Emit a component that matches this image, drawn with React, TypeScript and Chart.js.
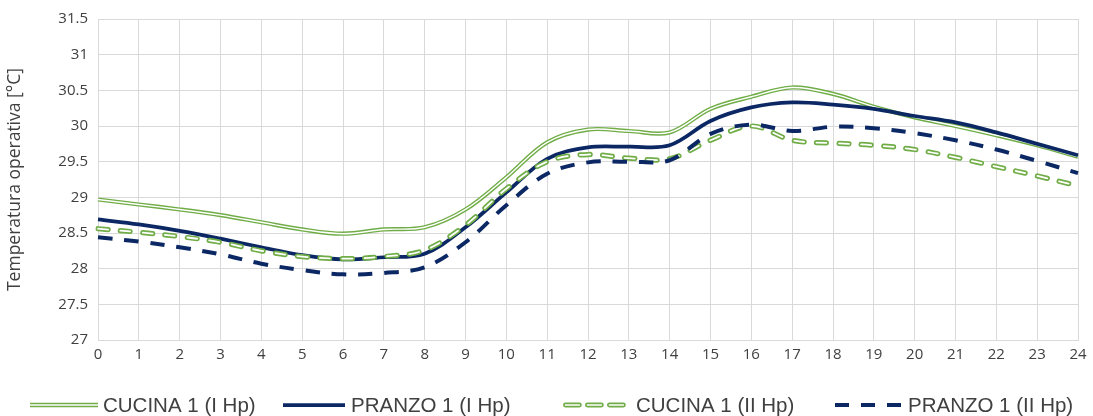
import React, { useEffect, useRef } from "react";
import { Chart, registerables } from "chart.js";

Chart.register(...registerables);

// Hours of the day (x axis)
const hours = [
  "0", "1", "2", "3", "4", "5", "6", "7", "8", "9", "10", "11", "12",
  "13", "14", "15", "16", "17", "18", "19", "20", "21", "22", "23", "24",
];

// Operative temperature [°C] per room and hypothesis
const cucinaI = [
  28.97, 28.9, 28.83, 28.75, 28.65, 28.55, 28.49, 28.55, 28.58, 28.83, 29.28, 29.77, 29.95,
  29.93, 29.91, 30.24, 30.41, 30.54, 30.45, 30.27, 30.12, 30.0, 29.87, 29.73, 29.57,
];
const pranzoI = [
  28.69, 28.62, 28.53, 28.42, 28.3, 28.19, 28.13, 28.16, 28.21, 28.58, 29.07, 29.54, 29.7,
  29.71, 29.73, 30.07, 30.26, 30.33, 30.3, 30.24, 30.14, 30.05, 29.91, 29.75, 29.59,
];
const cucinaII = [
  28.56, 28.51, 28.45, 28.37, 28.25, 28.17, 28.14, 28.17, 28.26, 28.61, 29.12, 29.5, 29.6,
  29.55, 29.54, 29.8, 30.0, 29.8, 29.76, 29.73, 29.67, 29.56, 29.43, 29.3, 29.16,
];
const pranzoII = [
  28.44, 28.38, 28.3, 28.2, 28.07, 27.98, 27.92, 27.94, 28.02, 28.37, 28.89, 29.33, 29.49,
  29.5, 29.52, 29.89, 30.02, 29.93, 29.99, 29.97, 29.9, 29.8, 29.67, 29.51, 29.34,
];

const seriesNames = ["CUCINA 1 (I Hp)", "PRANZO 1 (I Hp)", "CUCINA 1 (II Hp)", "PRANZO 1 (II Hp)"];

const yMin = 27;
const yMax = 31.5;
const yStep = 0.5;

const GREEN = "#70AD47";
const NAVY = "#0B2864";
const GRID = "#D9D9D9";
const TEXT = "#404040";

const TICK_FONT = { family: "'Open Sans', sans-serif", size: 15 };
const LEGEND_FONT = "20.5px 'Liberation Sans', Arial, sans-serif";

// Legend swatch geometry: swatch start, swatch end, text start
const legendSlots = [
  [30, 98, 103],
  [283, 345, 351],
  [563, 628, 636],
  [835, 901, 908],
];

type Look = { double: boolean; color: string; dash: number[]; cap: CanvasLineCap; width: number };
const legendLooks: Look[] = [
  { double: true, color: GREEN, dash: [], cap: "butt", width: 4.5 },
  { double: false, color: NAVY, dash: [], cap: "butt", width: 3.75 },
  { double: true, color: GREEN, dash: [14, 8], cap: "round", width: 4.8 },
  { double: false, color: NAVY, dash: [14, 12], cap: "butt", width: 4 },
];

// Legend drawn below the plot, with double-stroke swatches for the outlined series
const bottomLegend = {
  id: "bottomLegend",
  afterDraw(chart: Chart) {
    const ctx = chart.ctx;
    const cy = 405;
    ctx.save();
    ctx.font = LEGEND_FONT;
    seriesNames.forEach((name, i) => {
      const lk = legendLooks[i];
      const [x0, x1, tx] = legendSlots[i];
      const inset = lk.cap === "round" ? lk.width / 2 : 0;
      ctx.beginPath();
      ctx.setLineDash(lk.dash);
      ctx.lineCap = lk.cap;
      ctx.moveTo(x0 + inset, cy);
      ctx.lineTo(x1 - inset, cy);
      ctx.strokeStyle = lk.color;
      ctx.lineWidth = lk.width;
      ctx.stroke();
      if (lk.double) {
        ctx.strokeStyle = "#FFFFFF";
        ctx.lineWidth = 1.6;
        ctx.stroke();
      }
      ctx.setLineDash([]);
      ctx.fillStyle = TEXT;
      ctx.textBaseline = "middle";
      ctx.textAlign = "left";
      ctx.fillText(name, tx, cy + 1);
    });
    ctx.restore();
  },
};

export default function App() {
  const canvasRef = useRef<HTMLCanvasElement | null>(null);

  useEffect(() => {
    if (!canvasRef.current) return;
    const base = { pointRadius: 0, pointHoverRadius: 0, tension: 0.35, fill: false };
    const chart = new Chart(canvasRef.current, {
      type: "line",
      data: {
        labels: hours,
        datasets: [
          {
            ...base,
            label: seriesNames[3],
            data: pranzoII,
            borderColor: NAVY,
            borderWidth: 4,
            borderDash: [14.5, 11.8],
            order: 0,
          },
          {
            ...base,
            label: seriesNames[2] + " core",
            data: cucinaII,
            borderColor: "#FFFFFF",
            borderWidth: 1.8,
            borderDash: [10, 12.4],
            borderCapStyle: "round",
            order: 1,
          },
          {
            ...base,
            label: seriesNames[2],
            data: cucinaII,
            borderColor: GREEN,
            borderWidth: 5.2,
            borderDash: [10, 12.4],
            borderCapStyle: "round",
            order: 2,
          },
          {
            ...base,
            label: seriesNames[1],
            data: pranzoI,
            borderColor: NAVY,
            borderWidth: 3.75,
            order: 3,
          },
          {
            ...base,
            label: seriesNames[0] + " core",
            data: cucinaI,
            borderColor: "#FFFFFF",
            borderWidth: 1.4,
            order: 4,
          },
          {
            ...base,
            label: seriesNames[0],
            data: cucinaI,
            borderColor: GREEN,
            borderWidth: 4.2,
            order: 5,
          },
        ],
      },
      options: {
        animation: false,
        responsive: true,
        maintainAspectRatio: false,
        layout: { padding: { left: 0, right: 15, top: 18, bottom: 46 } },
        plugins: {
          legend: { display: false },
          tooltip: { enabled: false },
        },
        scales: {
          x: {
            type: "category",
            offset: false,
            grid: { color: GRID, lineWidth: 1, drawTicks: false },
            border: { color: GRID, width: 1 },
            ticks: { color: TEXT, font: TICK_FONT, padding: 6, maxRotation: 0, autoSkip: false },
            afterFit: (scale: any) => {
              scale.height = 30;
            },
          },
          y: {
            min: yMin,
            max: yMax,
            grid: { color: GRID, lineWidth: 1, drawTicks: false },
            border: { color: GRID, width: 1 },
            ticks: {
              stepSize: yStep,
              color: TEXT,
              font: TICK_FONT,
              padding: 10,
              callback: (v: any) => String(Number(v)),
            },
            title: {
              display: true,
              text: "Temperatura operativa [°C]",
              color: TEXT,
              font: { family: "'Open Sans', sans-serif", size: 17.5 },
              padding: { top: 5, bottom: 0 },
            },
            afterFit: (scale: any) => {
              scale.width = 98;
            },
          },
        },
      },
      plugins: [bottomLegend],
    });
    return () => chart.destroy();
  }, []);

  return (
    <div style={{ position: "absolute", left: 0, top: 0, width: 1093, height: 416, background: "#FFFFFF" }}>
      <canvas ref={canvasRef} />
    </div>
  );
}
